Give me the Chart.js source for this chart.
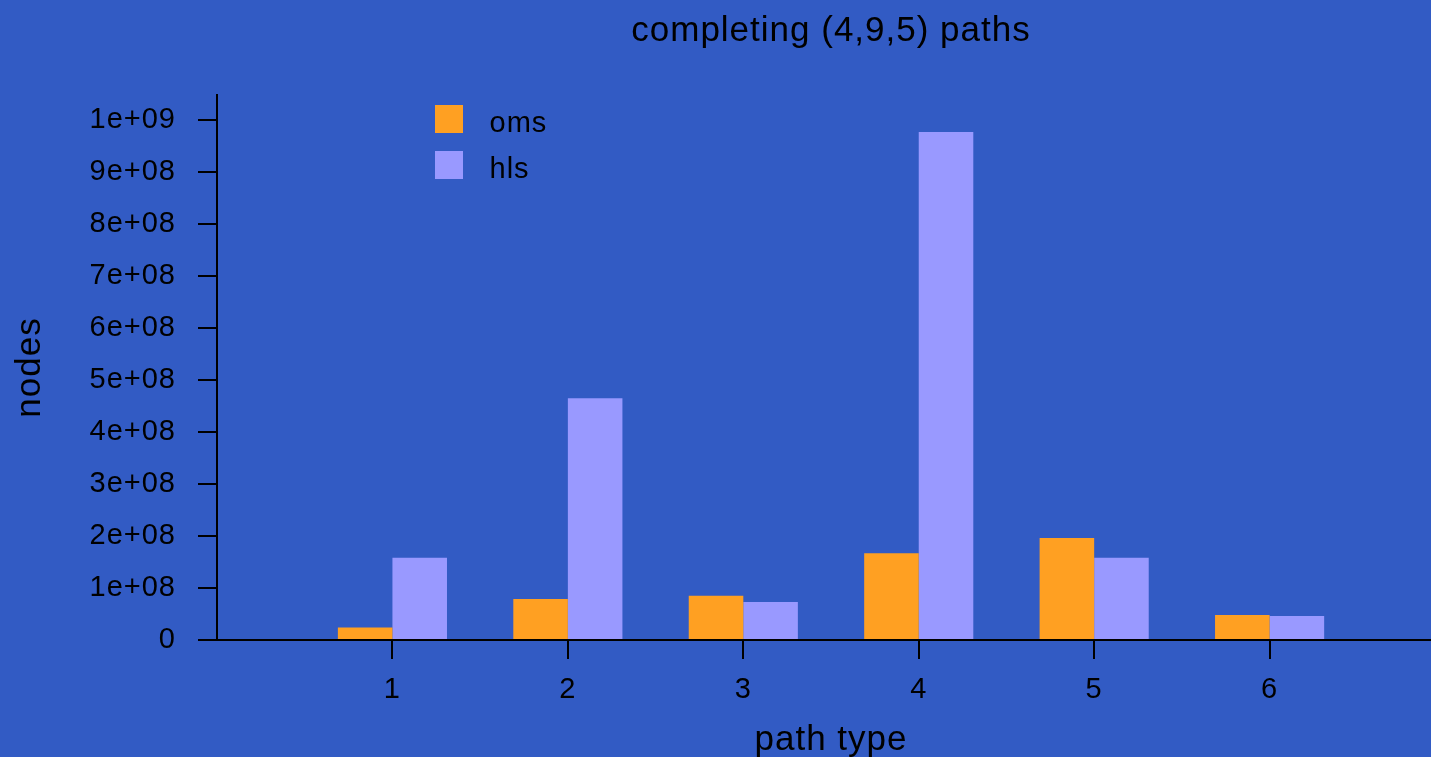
<!DOCTYPE html>
<html>
<head>
<meta charset="utf-8">
<title>completing (4,9,5) paths</title>
<script src="https://cdn.jsdelivr.net/npm/chart.js@4.4.1/dist/chart.umd.min.js"></script>
<style>
  html, body { margin: 0; padding: 0; background: #325BC4; overflow: hidden; }
  canvas { display: block; }
</style>
</head>
<body>
<canvas id="chart" width="1431" height="757"></canvas>
<script>
// ---- data ----
const chartTitle = 'completing (4,9,5) paths';
const xAxisTitle = 'path type';
const yAxisTitle = 'nodes';
const categories = ['1', '2', '3', '4', '5', '6'];
const categoryPositions = [1, 2, 3, 4, 5, 6];
const seriesNames = ['oms', 'hls'];
const omsValues = [2.4e7, 7.9e7, 8.5e7, 1.67e8, 1.96e8, 4.8e7];
const hlsValues = [1.58e8, 4.65e8, 7.3e7, 9.77e8, 1.58e8, 4.6e7];
const yTickValues = [0, 1e8, 2e8, 3e8, 4e8, 5e8, 6e8, 7e8, 8e8, 9e8, 1e9];
const yTickLabels = ['0', '1e+08', '2e+08', '3e+08', '4e+08', '5e+08',
                     '6e+08', '7e+08', '8e+08', '9e+08', '1e+09'];

// ---- styling ----
const INK = '#000000';
const ORANGE = '#FFA022';
const LAVENDER = '#9999FF';
const FONT = '"Liberation Sans", Arial, Helvetica, sans-serif';
const SPACING = '1px';
const TITLE_CENTER_X = 831;

const setSpacing = (chart) => { chart.ctx.letterSpacing = SPACING; };

const spacingPlugin = {
  id: 'letterSpacing',
  beforeLayout: setSpacing,
  beforeDraw: setSpacing
};

// main title, x-axis title and the boxed legend in the upper left of the plot
const decorPlugin = {
  id: 'decor',
  afterDraw(chart) {
    const ctx = chart.ctx;
    ctx.save();
    ctx.letterSpacing = SPACING;
    ctx.fillStyle = INK;
    ctx.textAlign = 'center';
    ctx.textBaseline = 'alphabetic';
    ctx.font = `35px ${FONT}`;
    ctx.fillText(chartTitle, TITLE_CENTER_X, 41);
    ctx.fillText(xAxisTitle, TITLE_CENTER_X, 750);

    ctx.font = `29px ${FONT}`;
    ctx.textAlign = 'left';
    chart.data.datasets.forEach((ds, i) => {
      const top = 105 + i * 46;
      ctx.fillStyle = ds.backgroundColor;
      ctx.fillRect(435, top, 28, 28);
      ctx.fillStyle = INK;
      ctx.fillText(ds.label, 489.5, top + 27);
    });
    ctx.restore();
  }
};

const toPoints = (vals) => categoryPositions.map((x, i) => ({ x, y: vals[i] }));

const tickGrid = {
  display: true,
  drawOnChartArea: false,
  drawTicks: true,
  tickLength: 19,
  color: INK,
  lineWidth: 2,
  offset: false
};

new Chart(document.getElementById('chart'), {
  type: 'bar',
  data: {
    datasets: [
      { label: seriesNames[0], data: toPoints(omsValues), backgroundColor: ORANGE,
        borderWidth: 0, categoryPercentage: 0.622, barPercentage: 1 },
      { label: seriesNames[1], data: toPoints(hlsValues), backgroundColor: LAVENDER,
        borderWidth: 0, categoryPercentage: 0.622, barPercentage: 1 }
    ]
  },
  options: {
    responsive: false,
    devicePixelRatio: 1,
    animation: false,
    layout: { padding: { top: 95, left: 0, right: 0, bottom: 0 } },
    plugins: {
      legend: { display: false },
      title: { display: false },
      tooltip: { enabled: false }
    },
    scales: {
      x: {
        type: 'linear',
        min: 0,
        max: 6.92,
        offset: false,
        grid: tickGrid,
        border: { display: true, color: INK, width: 2 },
        afterBuildTicks: (scale) => { scale.ticks = categoryPositions.map(v => ({ value: v })); },
        afterFit: (scale) => { scale.height = 117; },
        ticks: {
          color: INK,
          font: { family: FONT, size: 29 },
          padding: 14,
          autoSkip: false,
          maxRotation: 0,
          callback: (v) => categories[categoryPositions.indexOf(v)] ?? ''
        },
        title: { display: false }
      },
      y: {
        min: 0,
        max: 1.048e9,
        grid: tickGrid,
        border: { display: true, color: INK, width: 2 },
        afterBuildTicks: (scale) => { scale.ticks = yTickValues.map(v => ({ value: v })); },
        afterFit: (scale) => { scale.width = 217; },
        ticks: {
          color: INK,
          font: { family: FONT, size: 29 },
          padding: 22,
          callback: (v) => yTickLabels[yTickValues.indexOf(v)] ?? ''
        },
        title: {
          display: true,
          text: yAxisTitle,
          color: INK,
          font: { family: FONT, size: 35, lineHeight: 1.2 },
          padding: { top: 9, bottom: 0 }
        }
      }
    }
  },
  plugins: [spacingPlugin, decorPlugin]
});
</script>
</body>
</html>
